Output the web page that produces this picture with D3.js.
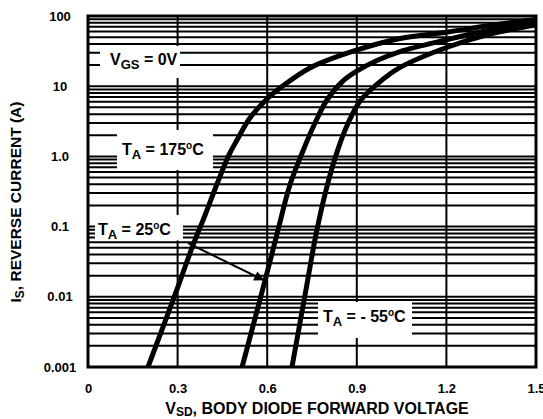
<!DOCTYPE html>
<html>
<head>
<meta charset="utf-8">
<script src="https://cdn.jsdelivr.net/npm/d3@7"></script>
<style>
    body { margin: 0; background: #fff; }
    svg { display: block; font-family: "Liberation Sans", Arial, sans-serif; font-weight: bold; }
</style>
</head>
<body>
<div id="wrapper"></div>
<script>
// tick values and labels
const xTicks = [0, 0.3, 0.6, 0.9, 1.2, 1.5];
const xTickLabels = ["0", "0.3", "0.6", "0.9", "1.2", "1.5"];
const yTicks = [0.001, 0.01, 0.1, 1, 10, 100];
const yTickLabels = ["0.001", "0.01", "0.1", "1.0", "10", "100"];

// series: body diode forward voltage (V) vs reverse current (A)
const v175 = [0.201, 0.301, 0.348, 0.392, 0.432, 0.472, 0.499, 0.542, 0.599, 0.643, 0.743, 0.901, 1.045, 1.205, 1.346, 1.5];
const i175 = [0.001, 0.0138, 0.0496, 0.146, 0.404, 1.05, 1.71, 3.52, 6.57, 9.42, 18.2, 32.8, 47.8, 59.2, 73.2, 89.2];
const v25 = [0.516, 0.593, 0.633, 0.676, 0.717, 0.760, 0.800, 0.854, 0.901, 0.971, 1.045, 1.205, 1.346, 1.5];
const i25 = [0.001, 0.0173, 0.0785, 0.392, 1.12, 2.99, 6.36, 11.9, 16.5, 23.6, 31.2, 46.3, 63.2, 82.2];
const vm55 = [0.683, 0.733, 0.763, 0.797, 0.834, 0.871, 0.911, 0.968, 1.045, 1.205, 1.346, 1.5];
const im55 = [0.001, 0.0150, 0.0759, 0.332, 1.16, 2.99, 6.15, 10.7, 18.5, 36.2, 55.4, 74.5];

// arrow from the 25C label to its curve
const arrowV = [0.335, 0.590];
const arrowI = [0.058, 0.0172];

var dimension = {
    width: 543,
    height: 419,
    margin: { top: 16, left: 88, bottom: 52, right: 7 }
};
dimension.boundedWidth = dimension.width - dimension.margin.left - dimension.margin.right;
dimension.boundedHeight = dimension.height - dimension.margin.top - dimension.margin.bottom;

const L = dimension.margin.left, T = dimension.margin.top;
const R = L + dimension.boundedWidth, B = T + dimension.boundedHeight;

const xScaler = d3.scaleLinear().domain([0, 1.5]).range([L, R]);
const yScaler = d3.scaleLog().domain([0.001, 100]).range([B, T]);

const svg = d3.select("#wrapper").append("svg")
    .attr("width", dimension.width)
    .attr("height", dimension.height);

svg.append("defs").append("clipPath").attr("id", "plotclip")
    .append("rect").attr("x", L).attr("y", T)
    .attr("width", R - L).attr("height", B - T);

// horizontal grid: 1..9 per decade
const hLines = [];
for (let d = -3; d <= 1; d++) {
    for (let k = 1; k <= 9; k++) hLines.push(k * Math.pow(10, d));
}
svg.append("g").selectAll("line")
    .data(hLines)
    .join("line")
    .attr("x1", L).attr("x2", R)
    .attr("y1", d => yScaler(d)).attr("y2", d => yScaler(d))
    .attr("stroke", "#000")
    .attr("stroke-width", 2);

// vertical grid
svg.append("g").selectAll("line")
    .data(xTicks.slice(1, -1))
    .join("line")
    .attr("x1", d => xScaler(d)).attr("x2", d => xScaler(d))
    .attr("y1", T).attr("y2", B)
    .attr("stroke", "#000")
    .attr("stroke-width", 2);

// white boxes behind the labels
const labels = [
    { box: [100, 46, 80, 32], x: 110, y: 65, main: "V", sub: "GS", rest: " = 0V", deg: false },
    { box: [117, 130, 96, 40], x: 122, y: 155, main: "T", sub: "A", rest: " = 175", deg: true },
    { box: [95, 215, 88, 25.5], x: 98, y: 235, main: "T", sub: "A", rest: " = 25", deg: true },
    { box: [318, 302, 94, 36], x: 323, y: 322, main: "T", sub: "A", rest: " = - 55", deg: true }
];
svg.append("g").selectAll("rect")
    .data(labels)
    .join("rect")
    .attr("x", d => d.box[0]).attr("y", d => d.box[1])
    .attr("width", d => d.box[2]).attr("height", d => d.box[3])
    .attr("fill", "#fff");

// frame
svg.append("rect")
    .attr("x", L).attr("y", T)
    .attr("width", R - L).attr("height", B - T)
    .attr("fill", "none")
    .attr("stroke", "#000")
    .attr("stroke-width", 3);

// curves
const line = d3.line()
    .x(d => xScaler(d[0]))
    .y(d => yScaler(d[1]))
    .curve(d3.curveCatmullRom.alpha(0.5));

const series = [
    d3.zip(v175, i175),
    d3.zip(v25, i25),
    d3.zip(vm55, im55)
];
svg.append("g").attr("clip-path", "url(#plotclip)")
    .selectAll("path")
    .data(series)
    .join("path")
    .attr("d", line)
    .attr("fill", "none")
    .attr("stroke", "#000")
    .attr("stroke-width", 5);

// label text
const lab = svg.append("g").selectAll("text")
    .data(labels)
    .join("text")
    .attr("x", d => d.x).attr("y", d => d.y)
    .attr("font-size", 16);
lab.append("tspan").text(d => d.main);
lab.append("tspan").attr("font-size", 13).attr("dy", 4).text(d => d.sub);
lab.append("tspan").attr("dy", -4).text(d => d.rest);
lab.filter(d => d.deg).append("tspan").attr("font-size", 10).attr("dy", -6).text("o");
lab.filter(d => d.deg).append("tspan").attr("dy", 6).text("C");

// arrow
svg.append("defs").append("marker")
    .attr("id", "arrowhead")
    .attr("viewBox", "0 0 10 10")
    .attr("refX", 10).attr("refY", 5)
    .attr("markerWidth", 7).attr("markerHeight", 5)
    .attr("orient", "auto")
    .attr("markerUnits", "strokeWidth")
    .append("path").attr("d", "M0,0 L10,5 L0,10 z").attr("fill", "#000");

svg.append("line")
    .attr("x1", xScaler(arrowV[0])).attr("y1", yScaler(arrowI[0]))
    .attr("x2", xScaler(arrowV[1])).attr("y2", yScaler(arrowI[1]))
    .attr("stroke", "#000")
    .attr("stroke-width", 2)
    .attr("marker-end", "url(#arrowhead)");

// axes (labels only)
const xAxisGroup = svg.append("g")
    .attr("transform", `translate(0,${B})`)
    .call(d3.axisBottom(xScaler)
        .tickValues(xTicks)
        .tickFormat((d, i) => xTickLabels[i])
        .tickSize(0)
        .tickPadding(17));
xAxisGroup.select(".domain").remove();
xAxisGroup.selectAll("text")
    .attr("font-size", 13)
    .attr("font-family", "Liberation Sans, Arial, sans-serif")
    .attr("font-weight", "bold")
    .attr("fill", "#000");

const yAxisGroup = svg.append("g")
    .attr("transform", "translate(60,0)")
    .call(d3.axisLeft(yScaler)
        .tickValues(yTicks)
        .tickFormat((d, i) => yTickLabels[i])
        .tickSize(0)
        .tickPadding(0));
yAxisGroup.select(".domain").remove();
yAxisGroup.selectAll("text")
    .attr("x", 0)
    .attr("text-anchor", "middle")
    .attr("font-size", 13)
    .attr("font-family", "Liberation Sans, Arial, sans-serif")
    .attr("font-weight", "bold")
    .attr("fill", "#000");

// axis titles
const xTitle = svg.append("text")
    .attr("x", 317).attr("y", 414)
    .attr("text-anchor", "middle")
    .attr("font-size", 16);
xTitle.append("tspan").text("V");
xTitle.append("tspan").attr("font-size", 12).attr("dy", 2).text("SD");
xTitle.append("tspan").attr("dy", -2).text(", BODY DIODE FORWARD VOLTAGE");

const yTitle = svg.append("text")
    .attr("transform", "translate(21,202) rotate(-90)")
    .attr("text-anchor", "middle")
    .attr("font-size", 15.5);
yTitle.append("tspan").text("I");
yTitle.append("tspan").attr("font-size", 12).attr("dy", 3).text("S");
yTitle.append("tspan").attr("dy", -3).text(", REVERSE CURRENT (A)");
</script>
</body>
</html>
